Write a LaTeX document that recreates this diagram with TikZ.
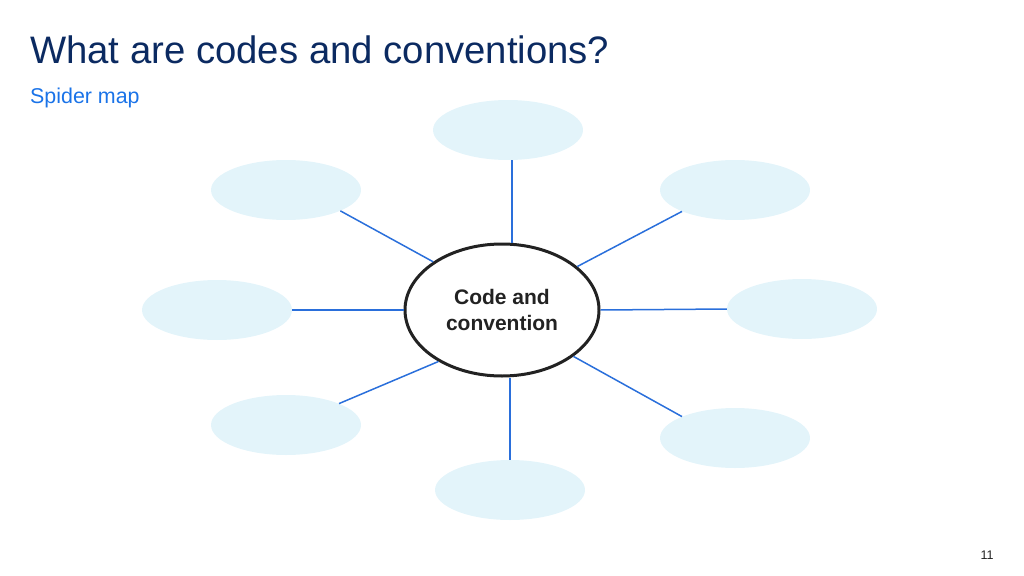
\documentclass[tikz,border=0pt]{standalone}
\usepackage{fontspec}
\setmainfont{Liberation Sans}
\usetikzlibrary{shapes.geometric}
\definecolor{titleblue}{HTML}{0B2A61}
\definecolor{subblue}{HTML}{1A73E8}
\definecolor{linkblue}{HTML}{2A6FDB}
\definecolor{bubble}{HTML}{E3F4FA}
\definecolor{darktext}{HTML}{222222}
\begin{document}
\begin{tikzpicture}[x=1pt,y=-1pt,
	bubble/.style={ellipse,fill=bubble,draw=none,minimum width=150pt,minimum height=60pt,inner sep=0pt},
	link/.style={draw=linkblue,line width=1.5pt}]
	\useasboundingbox (0,0) rectangle (1024,575);
	
	% heading
	\node[anchor=base west,inner sep=0pt,text=titleblue,font=\fontsize{38.3}{42}\selectfont] (title) at (30,64) {What are codes and conventions?};
	\node[anchor=base west,inner sep=0pt,text=subblue,font=\fontsize{21.4}{25}\selectfont] (subtitle) at (30,104) {Spider map};
	
	% centre
	\node[ellipse,draw=darktext,line width=3pt,fill=white,minimum width=194pt,minimum height=132pt,inner sep=0pt,align=center,text=darktext,font=\fontsize{21}{26}\selectfont\bfseries] (main) at (502,310) {Code and\\convention};
	
	% outer bubbles
	\node[bubble] (sub1) at (508,130) {};
	\node[bubble] (sub2) at (735,190) {};
	\node[bubble] (sub3) at (802,309) {};
	\node[bubble] (sub4) at (735,438) {};
	\node[bubble] (sub5) at (510,490) {};
	\node[bubble] (sub6) at (286,425) {};
	\node[bubble] (sub7) at (217,310) {};
	\node[bubble] (sub8) at (286,190) {};
	
	\draw[link] ([xshift=4pt]sub1.south) -- ([xshift=4pt]sub1.south |- main.north);
	\draw[link] (main.30) -- (sub2.202);
	\draw[link] (main.east) -- (sub3.west);
	\draw[link] (main.-33) -- (sub4.158);
	\draw[link] (sub5.north) -- (sub5.north |- main.south);
	\draw[link] (main.219) -- (sub6.22);
	\draw[link] (sub7.east) -- (sub7.east -| main.west);
	\draw[link] (main.145) -- (sub8.-21);
	
	% page number
	\node[text=darktext,font=\fontsize{12.5}{14}\selectfont] (page) at (987,555) {11};
\end{tikzpicture}
\end{document}
